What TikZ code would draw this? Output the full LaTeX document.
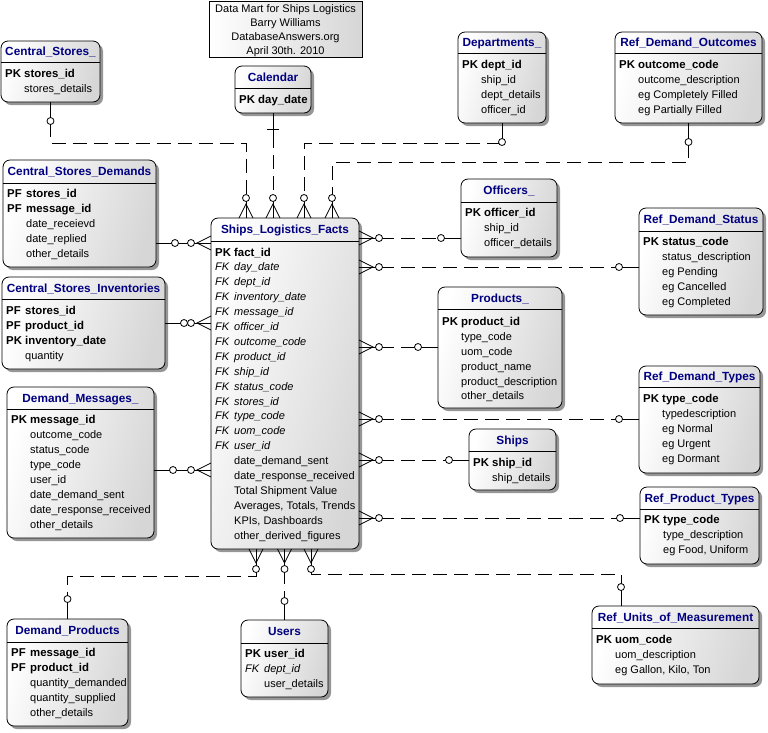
\documentclass[tikz,border=0pt]{standalone}
\usepackage{fontspec}
\setmainfont{Liberation Sans}
\usetikzlibrary{calc}
\definecolor{navyt}{RGB}{0,0,128}
\definecolor{boxgray}{RGB}{214,214,214}
\definecolor{shadowc}{RGB}{150,150,150}
\newcommand\fr{\fontsize{11}{13}\selectfont}
\newcommand\fb{\fontsize{11.4}{13}\selectfont\bfseries}
\newcommand\ftl{\fontsize{11.8}{14}\selectfont\bfseries}
\tikzset{
 tbl/.style={draw, line width=0.8pt, rounded corners=7pt, inner sep=0pt, outer sep=0pt, top color=white, bottom color=boxgray, shading angle=75},
 ttl/.style={anchor=base, inner sep=0pt, text=navyt, font=\ftl},
 rt/.style={anchor=base west, inner sep=0pt, font=\fr},
 rtb/.style={rt, font=\fb},
 rti/.style={rt, font=\fr\itshape},
 ln/.style={line width=0.8pt},
 dln/.style={line width=0.8pt, dash pattern=on 14pt off 7pt},
 ocirc/.style={draw, fill=white, line width=0.8pt},
}
\newcommand\erbox[7]{%
 \fill[shadowc, rounded corners=7pt] ({#2+3},{-#3-3}) rectangle ({#4+3},{-#5-3});
 \node[tbl, minimum width={(#4-#2)*1pt}, minimum height={(#5-#3)*1pt}] (#1) at ({(#2+#4)/2},{-(#3+#5)/2}) {};
 \draw[ln] (#2,-#6) -- (#4,-#6);
 \node[ttl] (#1-t) at ({(#2+#4)/2},{-(#3+#6)/2-4.2}) {#7};}
\newcommand\rowk[5]{\node[rtb] (#1k) at ({#2+4},{-#3-4}) {#4}; \node[rtb] (#1) at ({#2+23},{-#3-4}) {#5};}
\newcommand\rowf[4]{\node[rti] (#1k) at ({#2+4},{-#3-4}) {FK}; \node[rti] (#1) at ({#2+23},{-#3-4}) {#4};}
\newcommand\rowp[4]{\node[rt] (#1) at ({#2+23},{-#3-4}) {#4};}
\newcommand\crowN[1]{\draw[ln] (#1) ++(-7,0) -- ++(7,14) -- ++(7,-14); \draw[ln] (#1) -- ++(0,17); \draw[ocirc] (#1) ++(0,20) circle[radius=3.5pt];}
\newcommand\crowS[1]{\draw[ln] (#1) ++(-7,0) -- ++(7,-14) -- ++(7,14); \draw[ln] (#1) -- ++(0,-17); \draw[ocirc] (#1) ++(0,-20) circle[radius=3.5pt];}
\newcommand\crowE[1]{\draw[ln] (#1) ++(0,7) -- ++(14,-7) -- ++(-14,-7); \draw[ln] (#1) -- ++(17,0); \draw[ocirc] (#1) ++(20,0) circle[radius=3.5pt];}
\newcommand\crowW[1]{\draw[ln] (#1) ++(0,7) -- ++(-14,-7) -- ++(14,-7); \draw[ln] (#1) -- ++(-17,0); \draw[ocirc] (#1) ++(-20,0) circle[radius=3.5pt];}
\newcommand\onem[3]{\draw[ln] (#1) -- ++(#2,#3); \draw[ocirc] (#1) ++(#2,#3) circle[radius=3.5pt];}
\begin{document}
\begin{tikzpicture}[x=1pt,y=1pt]
\useasboundingbox (0,0) rectangle (768,-732);
% header
\node[draw, line width=0.8pt, left color=white, right color=boxgray, minimum width=153pt, minimum height=56pt, inner sep=0pt, outer sep=0pt] (hdr) at (285.5,-29) {};
\node[anchor=base, inner sep=0pt, font=\fr] (hdr1) at (285.5,-12) {Data Mart for Ships Logistics};
\node[anchor=base, inner sep=0pt, font=\fr] (hdr2) at (285.5,-26) {Barry Williams};
\node[anchor=base, inner sep=0pt, font=\fr] (hdr3) at (285.5,-40) {DatabaseAnswers.org};
\node[anchor=base, inner sep=0pt, font=\fr] (hdr4) at (285.5,-54) {April 30th. 2010};
% tables
\erbox{cs}{1}{41}{100}{102}{62}{Central\_Stores\_}
\rowk{cs1}{1}{73}{PK}{stores\_id}
\rowp{cs2}{1}{88}{stores\_details}
\erbox{cal}{235}{66}{311}{113}{88}{Calendar}
\rowk{cal1}{235}{99}{PK}{day\_date}
\erbox{csd}{3}{160}{156}{267}{183}{Central\_Stores\_Demands}
\rowk{csd1}{3}{193}{PF}{stores\_id}
\rowk{csd2}{3}{208}{PF}{message\_id}
\rowp{csd3}{3}{223}{date\_receievd}
\rowp{csd4}{3}{238}{date\_replied}
\rowp{csd5}{3}{253}{other\_details}
\erbox{facts}{211}{218}{359}{549}{241}{Ships\_Logistics\_Facts}
\rowk{f0}{211}{252}{PK}{fact\_id}
\rowf{f1}{211}{266.9}{day\_date}
\rowf{f2}{211}{281.8}{dept\_id}
\rowf{f3}{211}{296.7}{inventory\_date}
\rowf{f4}{211}{311.6}{message\_id}
\rowf{f5}{211}{326.5}{officer\_id}
\rowf{f6}{211}{341.4}{outcome\_code}
\rowf{f7}{211}{356.3}{product\_id}
\rowf{f8}{211}{371.2}{ship\_id}
\rowf{f9}{211}{386.1}{status\_code}
\rowf{f10}{211}{401}{stores\_id}
\rowf{f11}{211}{415.9}{type\_code}
\rowf{f12}{211}{430.8}{uom\_code}
\rowf{f13}{211}{445.7}{user\_id}
\rowp{f14}{211}{460.6}{date\_demand\_sent}
\rowp{f15}{211}{475.5}{date\_response\_received}
\rowp{f16}{211}{490.4}{Total Shipment Value}
\rowp{f17}{211}{505.3}{Averages, Totals, Trends}
\rowp{f18}{211}{520.2}{KPIs, Dashboards}
\rowp{f19}{211}{535.1}{other\_derived\_figures}
\erbox{csi}{2}{277}{165}{369}{299}{Central\_Stores\_Inventories}
\rowk{csi1}{2}{310}{PF}{stores\_id}
\rowk{csi2}{2}{325}{PF}{product\_id}
\rowk{csi3}{2}{340}{PK}{inventory\_date}
\rowp{csi4}{2}{355}{quantity}
\erbox{dm}{7}{387}{154}{538}{409}{Demand\_Messages\_}
\rowk{dm1}{7}{419}{PK}{message\_id}
\rowp{dm2}{7}{434}{outcome\_code}
\rowp{dm3}{7}{449}{status\_code}
\rowp{dm4}{7}{464}{type\_code}
\rowp{dm5}{7}{479}{user\_id}
\rowp{dm6}{7}{494}{date\_demand\_sent}
\rowp{dm7}{7}{509}{date\_response\_received}
\rowp{dm8}{7}{524}{other\_details}
\erbox{dept}{458}{32}{546}{123}{53}{Departments\_}
\rowk{dept1}{458}{64}{PK}{dept\_id}
\rowp{dept2}{458}{79}{ship\_id}
\rowp{dept3}{458}{94}{dept\_details}
\rowp{dept4}{458}{109}{officer\_id}
\erbox{rdo}{615}{32}{762}{123}{53}{Ref\_Demand\_Outcomes}
\rowk{rdo1}{615}{64}{PK}{outcome\_code}
\rowp{rdo2}{615}{79}{outcome\_description}
\rowp{rdo3}{615}{94}{eg Completely Filled}
\rowp{rdo4}{615}{109}{eg Partially Filled}
\erbox{off}{461}{179}{557}{257}{202}{Officers\_}
\rowk{off1}{461}{212}{PK}{officer\_id}
\rowp{off2}{461}{227}{ship\_id}
\rowp{off3}{461}{242}{officer\_details}
\erbox{rds}{639}{208}{763}{315}{231}{Ref\_Demand\_Status}
\rowk{rds1}{639}{241}{PK}{status\_code}
\rowp{rds2}{639}{256}{status\_description}
\rowp{rds3}{639}{271}{eg Pending}
\rowp{rds4}{639}{286}{eg Cancelled}
\rowp{rds5}{639}{301}{eg Completed}
\erbox{prod}{438}{287}{562}{408}{309}{Products\_}
\rowk{prod1}{438}{321}{PK}{product\_id}
\rowp{prod2}{438}{336}{type\_code}
\rowp{prod3}{438}{351}{uom\_code}
\rowp{prod4}{438}{366}{product\_name}
\rowp{prod5}{438}{381}{product\_description}
\rowp{prod6}{438}{395}{other\_details}
\erbox{rdt}{639}{366}{760}{473}{387}{Ref\_Demand\_Types}
\rowk{rdt1}{639}{398}{PK}{type\_code}
\rowp{rdt2}{639}{413}{typedescription}
\rowp{rdt3}{639}{428}{eg Normal}
\rowp{rdt4}{639}{443}{eg Urgent}
\rowp{rdt5}{639}{458}{eg Dormant}
\erbox{ships}{469}{429}{556}{490}{451}{Ships}
\rowk{ships1}{469}{462}{PK}{ship\_id}
\rowp{ships2}{469}{477}{ship\_details}
\erbox{rpt}{640}{487}{759}{564}{509}{Ref\_Product\_Types}
\rowk{rpt1}{640}{519}{PK}{type\_code}
\rowp{rpt2}{640}{534}{type\_description}
\rowp{rpt3}{640}{549}{eg Food, Uniform}
\erbox{dp}{7}{619}{128}{726}{642}{Demand\_Products}
\rowk{dp1}{7}{652}{PF}{message\_id}
\rowk{dp2}{7}{667}{PF}{product\_id}
\rowp{dp3}{7}{682}{quantity\_demanded}
\rowp{dp4}{7}{697}{quantity\_supplied}
\rowp{dp5}{7}{712}{other\_details}
\erbox{users}{241}{620}{328}{697}{643}{Users}
\rowk{users1}{241}{653}{PK}{user\_id}
\rowf{users2}{241}{668}{dept\_id}
\rowp{users3}{241}{683}{user\_details}
\erbox{ruom}{592}{606}{759}{684}{628}{Ref\_Units\_of\_Measurement}
\rowk{ruom1}{592}{639}{PK}{uom\_code}
\rowp{ruom2}{592}{654}{uom\_description}
\rowp{ruom3}{592}{669}{eg Gallon, Kilo, Ton}
% connector helper coordinates
\coordinate (ta) at (246,-143);
\coordinate (tc) at (304,-143);
\coordinate (td) at (332,-162);
\coordinate (ra) at (0,-238);
\coordinate (rb) at (0,-267);
\coordinate (rc) at (0,-347);
\coordinate (rd) at (0,-419);
\coordinate (re) at (0,-460);
\coordinate (rf) at (0,-518);
\coordinate (la) at (0,-243);
\coordinate (lb) at (0,-323);
\coordinate (lc) at (0,-470);
\coordinate (ba) at (256,-576);
\coordinate (bc) at (311,-574);
\coordinate (bcx) at (621,-574);
% top connectors
\draw[dln] (cs.south) |- (ta) -- (ta |- facts.north);
\draw[dln] (cal.south) -- (cal.south |- facts.north);
\draw[dln] (dept.south) |- (tc) -- (tc |- facts.north);
\draw[dln] (rdo.south) |- (td) -- (td |- facts.north);
% right connectors
\draw[dln] (facts.east |- ra) -- (off.west |- ra);
\draw[dln] (facts.east |- rb) -- (rds.west |- rb);
\draw[dln] (facts.east |- rc) -- (prod.west |- rc);
\draw[dln] (facts.east |- rd) -- (rdt.west |- rd);
\draw[dln] (facts.east |- re) -- (ships.west |- re);
\draw[dln] (facts.east |- rf) -- (rpt.west |- rf);
% left connectors
\draw[ln] (csd.east |- la) -- (facts.west |- la);
\draw[ln] (csi.east |- lb) -- (facts.west |- lb);
\draw[ln] (dm.east |- lc) -- (facts.west |- lc);
% bottom connectors
\draw[dln] (ba |- facts.south) -- (ba) -| (dp.north);
\draw[dln] (users.north |- facts.south) -- (users.north);
\draw[dln] (bc |- facts.south) -- (bc) -- (bcx) -- (bcx |- ruom.north);
% markers
\onem{cs.south}{0}{-19}
\draw[ln] (cal.south) -- ++(0,-22);
\draw[ln] (cal.south) ++(-6,-16) -- ++(12,0);
\onem{dept.south}{0}{-19}
\onem{rdo.south}{0}{-19}
\crowN{ta |- facts.north}
\crowN{cal.south |- facts.north}
\crowN{tc |- facts.north}
\crowN{td |- facts.north}
\crowE{facts.east |- ra} \onem{off.west |- ra}{-20}{0}
\crowE{facts.east |- rb} \onem{rds.west |- rb}{-20}{0}
\crowE{facts.east |- rc} \onem{prod.west |- rc}{-20}{0}
\crowE{facts.east |- rd} \onem{rdt.west |- rd}{-20}{0}
\crowE{facts.east |- re} \onem{ships.west |- re}{-20}{0}
\crowE{facts.east |- rf} \onem{rpt.west |- rf}{-20}{0}
\crowW{facts.west |- la} \onem{csd.east |- la}{19}{0}
\crowW{facts.west |- lb} \onem{csi.east |- lb}{19}{0}
\crowW{facts.west |- lc} \onem{dm.east |- lc}{19}{0}
\crowS{ba |- facts.south} \onem{dp.north}{0}{20}
\crowS{users.north |- facts.south} \onem{users.north}{0}{19}
\crowS{bc |- facts.south} \onem{bcx |- ruom.north}{0}{19}
\end{tikzpicture}
\end{document}
